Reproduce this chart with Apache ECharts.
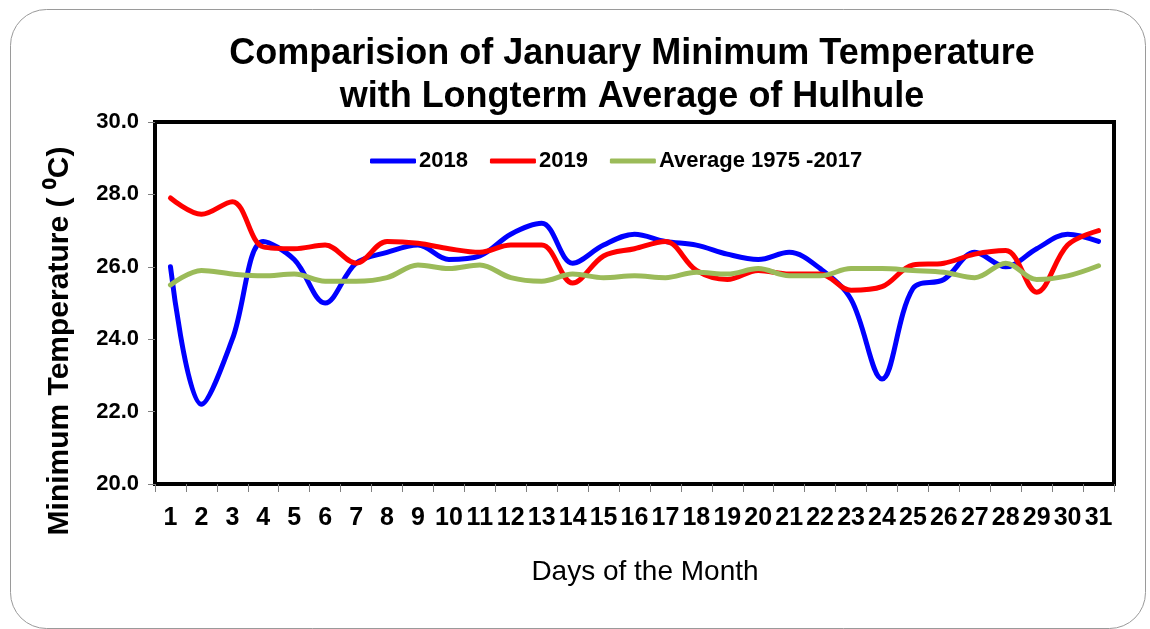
<!DOCTYPE html>
<html>
<head>
<meta charset="utf-8">
<script src="https://cdn.jsdelivr.net/npm/echarts@6/dist/echarts.min.js"></script>
<style>
html,body{margin:0;padding:0;background:#fff;}
#chart{width:1150px;height:629px;}
</style>
</head>
<body>
<div id="chart"></div>
<script>
var days = ['1','2','3','4','5','6','7','8','9','10','11','12','13','14','15','16','17','18','19','20','21','22','23','24','25','26','27','28','29','30','31'];
var y2018 = [26.0, 22.2, 24.0, 26.7, 26.2, 25.0, 26.1, 26.4, 26.6, 26.2, 26.3, 26.9, 27.2, 26.1, 26.6, 26.9, 26.7, 26.6, 26.35, 26.2, 26.4, 25.95, 25.1, 22.9, 25.4, 25.65, 26.4, 26.0, 26.5, 26.9, 26.7];
var y2019 = [27.9, 27.45, 27.8, 26.55, 26.5, 26.6, 26.1, 26.7, 26.65, 26.5, 26.4, 26.6, 26.6, 25.55, 26.3, 26.5, 26.7, 25.9, 25.65, 25.9, 25.8, 25.8, 25.35, 25.45, 26.05, 26.1, 26.35, 26.45, 25.3, 26.6, 27.0];
var avg = [25.5, 25.9, 25.8, 25.75, 25.8, 25.6, 25.6, 25.7, 26.05, 25.95, 26.05, 25.7, 25.6, 25.8, 25.7, 25.75, 25.7, 25.85, 25.8, 25.95, 25.75, 25.75, 25.95, 25.95, 25.9, 25.85, 25.7, 26.1, 25.65, 25.75, 26.03];
var seriesNames = ['2018', '2019', 'Average 1975 -2017'];
var titleText = 'Comparision of January Minimum Temperature\nwith Longterm Average of Hulhule';
var yName = 'Minimum Temperature ( \u2070C)';
var xName = 'Days of the Month';

var FONT = '"Liberation Sans", Arial, sans-serif';
var chart = echarts.init(document.getElementById('chart'));

function lineSeries(name, data, color, z) {
  return {
    name: name, type: 'line', data: data, smooth: 0.35,
    showSymbol: false, symbol: 'none', z: z,
    lineStyle: { color: color, width: 5, cap: 'round', join: 'round' },
    itemStyle: { color: color }
  };
}

chart.setOption({
  animation: false,
  backgroundColor: '#fff',
  title: {
    text: titleText,
    left: 627, top: 28, textAlign: 'center',
    textStyle: { fontFamily: FONT, fontWeight: 'bold', fontSize: 36, lineHeight: 43, color: '#000' }
  },
  legend: {
    left: 365, top: 145,
    itemWidth: 46, itemHeight: 5, itemGap: 22,
    icon: 'roundRect',
    textStyle: { fontFamily: FONT, fontWeight: 'bold', fontSize: 22, color: '#000', padding: [0,0,0,-2] },
    data: seriesNames
  },
  grid: {
    left: 155, right: 36, top: 122, bottom: 145,
    show: true, borderColor: '#000', borderWidth: 4, backgroundColor: '#fff'
  },
  xAxis: {
    type: 'category', data: days, boundaryGap: true,
    axisLine: { show: true, lineStyle: { color: '#000', width: 4 } },
    axisTick: { show: true, interval: 0, length: 8, lineStyle: { color: '#808080', width: 1 } },
    axisLabel: { interval: 0, margin: 22, fontFamily: FONT, fontWeight: 'bold', fontSize: 25, color: '#000' },
    splitLine: { show: false }
  },
  yAxis: {
    type: 'value', min: 20, max: 30, interval: 2,
    axisLine: { show: true, lineStyle: { color: '#000', width: 4 } },
    axisTick: { show: true, length: 7, lineStyle: { color: '#808080', width: 1 } },
    axisLabel: { margin: 16, fontFamily: FONT, fontWeight: 'bold', fontSize: 22, color: '#000',
      formatter: function (v) { return v.toFixed(1); } },
    splitLine: { show: false }
  },
  graphic: [
    { type: 'rect', left: 8, top: 7, z: -10, silent: true,
      shape: { width: 1135, height: 619, r: 36 },
      style: { fill: 'none', stroke: '#9a9a9a', lineWidth: 1 } },
    { type: 'text', x: 60, y: 341, rotation: Math.PI / 2, silent: true,
      style: { text: yName, fontFamily: FONT, fontWeight: 'bold', fontSize: 30, fill: '#000',
        textAlign: 'center', textVerticalAlign: 'middle' } },
    { type: 'text', x: 645, y: 572, silent: true,
      style: { text: xName, fontFamily: FONT, fontSize: 28, fill: '#000',
        textAlign: 'center', textVerticalAlign: 'middle' } }
  ],
  series: [
    lineSeries(seriesNames[0], y2018, '#0000FF', 2),
    lineSeries(seriesNames[1], y2019, '#FF0000', 3),
    lineSeries(seriesNames[2], avg, '#9BBB59', 4)
  ]
});
</script>
</body>
</html>
